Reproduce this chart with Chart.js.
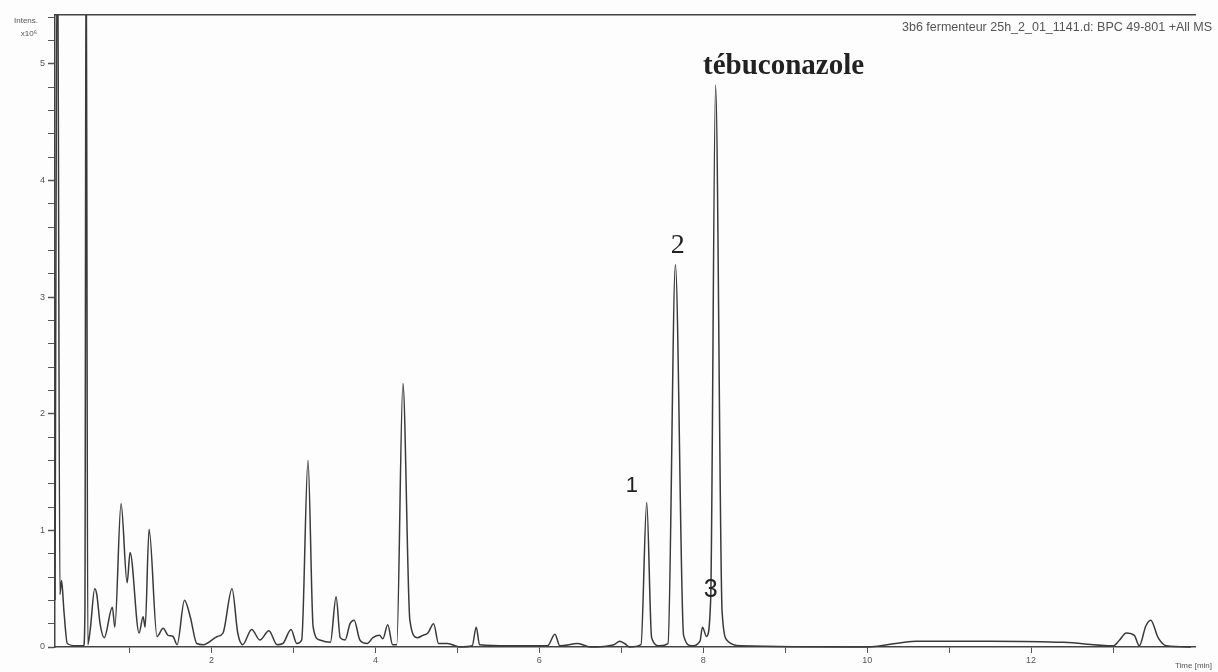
<!DOCTYPE html>
<html>
<head>
<meta charset="utf-8">
<script src="https://cdn.jsdelivr.net/npm/chart.js@4/dist/chart.umd.min.js"></script>
<style>
  html, body { margin: 0; padding: 0; background: #fdfdfd; }
  #wrap { width: 1218px; height: 672px; }
</style>
</head>
<body>
<div id="wrap"><canvas id="bpc" width="1218" height="672"></canvas></div>
<script>
// BPC trace: retention time (min) / intensity (x10^6)
const retentionTimes = [
  0.09, 0.12, 0.15, 0.17, 0.20, 0.24, 0.35, 0.44, 0.455, 0.47, 0.49, 0.52,
  0.575, 0.60, 0.64, 0.69, 0.79, 0.82, 0.896, 0.97, 1.006, 1.116, 1.165, 1.19,
  1.238, 1.335, 1.41, 1.47, 1.53, 1.58, 1.67, 1.74, 1.82, 1.90, 2.07, 2.14,
  2.25, 2.32, 2.38, 2.49, 2.59, 2.70, 2.80, 2.87, 2.97, 3.04, 3.10, 3.177,
  3.24, 3.32, 3.45, 3.52, 3.57, 3.63, 3.69, 3.74, 3.81, 3.90, 3.97, 4.05,
  4.09, 4.15, 4.21, 4.26, 4.335, 4.42, 4.51, 4.58, 4.64, 4.71, 4.77, 4.88,
  5.03, 5.18, 5.23, 5.27, 5.64, 6.10, 6.19, 6.25, 6.47, 6.62, 6.91, 6.98,
  7.04, 7.10, 7.24, 7.31, 7.37, 7.47, 7.57, 7.66, 7.76, 7.86, 7.96, 7.99,
  8.04, 8.09, 8.15, 8.23, 8.30, 8.45, 10.0, 10.6, 11.5, 12.4, 13.0, 13.08,
  13.16, 13.26, 13.32, 13.40, 13.46, 13.55, 13.65, 13.95
];
const intensities = [
  0.40, 6.50, 0.45, 0.57, 0.30, 0.03, 0.01, 0.01, 0.30, 6.50, 0.02, 0.15,
  0.50, 0.45, 0.20, 0.08, 0.34, 0.17, 1.23, 0.55, 0.81, 0.12, 0.26, 0.17,
  1.01, 0.09, 0.16, 0.10, 0.09, 0.02, 0.40, 0.26, 0.03, 0.02, 0.09, 0.12,
  0.50, 0.12, 0.02, 0.15, 0.06, 0.14, 0.02, 0.03, 0.15, 0.03, 0.06, 1.60,
  0.17, 0.06, 0.04, 0.43, 0.08, 0.06, 0.20, 0.23, 0.06, 0.03, 0.08, 0.10,
  0.07, 0.19, 0.02, 0.02, 2.26, 0.23, 0.08, 0.10, 0.12, 0.20, 0.03, 0.03,
  0.00, 0.01, 0.17, 0.02, 0.01, 0.01, 0.11, 0.01, 0.03, 0.00, 0.02, 0.05,
  0.03, 0.00, 0.02, 1.24, 0.08, 0.01, 0.03, 3.28, 0.10, 0.01, 0.05, 0.17,
  0.09, 0.40, 4.82, 0.30, 0.05, 0.01, 0.00, 0.05, 0.05, 0.04, 0.01, 0.06,
  0.12, 0.10, 0.01, 0.18, 0.23, 0.08, 0.01, 0.00
];

// axis ticks
const xTickLabels = [2, 4, 6, 8, 10, 12];
const xMinorTicks = [1, 2, 3, 4, 5, 6, 7, 8, 9, 10, 11, 12, 13];
const yTickLabels = [0, 1, 2, 3, 4, 5];
const yMinorStep = 0.2;

// peak labels: text, retention time, intensity where the text sits
const peakNames = ['tébuconazole', '2', '1', '3'];
const peakLabelTimes = [8.98, 7.69, 7.13, 8.09];
const peakLabelHeights = [4.91, 3.38, 1.33, 0.43];

const yMinorTicks = [];
for (let i = 0; i <= 27; i++) yMinorTicks.push(Math.round(i * yMinorStep * 10) / 10);

const isInt = v => Math.abs(v - Math.round(v)) < 1e-6;

const labelPlugin = {
  id: 'labels',
  afterDraw(chart) {
    const c = chart.ctx;
    const xs = chart.scales.x, ys = chart.scales.y;
    c.save();
    c.fillStyle = '#222';
    c.textAlign = 'center';
    c.textBaseline = 'alphabetic';
    const fonts = ['bold 29px "Liberation Serif"', '28px "Liberation Serif"', '22px "Liberation Sans"', '25px "Liberation Sans"'];
    peakNames.forEach((name, i) => {
      c.font = fonts[i];
      c.fillText(name, xs.getPixelForValue(peakLabelTimes[i]), ys.getPixelForValue(peakLabelHeights[i]));
    });
    // header texts
    c.fillStyle = '#555';
    c.font = '8px "Liberation Sans"';
    c.textAlign = 'right';
    c.fillText('Intens.', 38, 23);
    c.fillText('x10\u2076', 37, 36);
    c.font = '12.5px "Liberation Sans"';
    c.textAlign = 'left';
    c.fillText('3b6 fermenteur 25h_2_01_1141.d: BPC 49-801 +All MS', 902, 31);
    c.font = '8px "Liberation Sans"';
    c.textAlign = 'right';
    c.fillText('Time [min]', 1212, 668);
    c.restore();
  }
};

const ctx = document.getElementById('bpc').getContext('2d');
const chart = new Chart(ctx, {
  type: 'line',
  data: {
    datasets: [{
      data: retentionTimes.map((t, i) => ({ x: t, y: intensities[i] })),
      borderColor: '#3a3a3a',
      borderWidth: 1.5,
      pointRadius: 0,
      cubicInterpolationMode: 'monotone',
      fill: false,
      clip: { left: 2, top: 0, right: 2, bottom: 3 }
    }]
  },
  options: {
    responsive: false,
    animation: false,
    layout: { padding: { top: 15, right: 23, left: 0, bottom: 0 } },
    plugins: { legend: { display: false }, tooltip: { enabled: false } },
    scales: {
      x: {
        type: 'linear',
        min: 0.09,
        max: 14.0,
        afterBuildTicks: s => { s.ticks = xMinorTicks.map(v => ({ value: v })); },
        afterFit: s => { s.height = 25; },
        ticks: {
          autoSkip: false,
          maxRotation: 0,
          padding: 2,
          color: '#555',
          font: { family: 'Liberation Sans', size: 9 },
          callback: v => xTickLabels.includes(v) ? v : ''
        },
        grid: { drawOnChartArea: false, tickLength: 6, color: '#555' },
        border: { color: '#444', width: 1.5 }
      },
      x2: {
        type: 'linear',
        position: 'top',
        ticks: { display: false },
        grid: { display: false, drawTicks: false },
        border: { color: '#444', width: 1.5 },
        afterFit: s => { s.height = 0; }
      },
      y: {
        min: 0,
        max: 5.42,
        afterBuildTicks: s => { s.ticks = yMinorTicks.map(v => ({ value: v })); },
        afterFit: s => { s.width = 55; },
        ticks: {
          padding: 3,
          color: '#555',
          font: { family: 'Liberation Sans', size: 9 },
          callback: v => isInt(v) && yTickLabels.includes(Math.round(v)) ? Math.round(v) : ''
        },
        grid: {
          drawOnChartArea: false,
          tickLength: 7,
          color: '#555',
          tickWidth: c => (c.tick && isInt(c.tick.value)) ? 1.5 : 1
        },
        border: { color: '#444', width: 1.5 }
      }
    }
  },
  plugins: [labelPlugin]
});
</script>
</body>
</html>
